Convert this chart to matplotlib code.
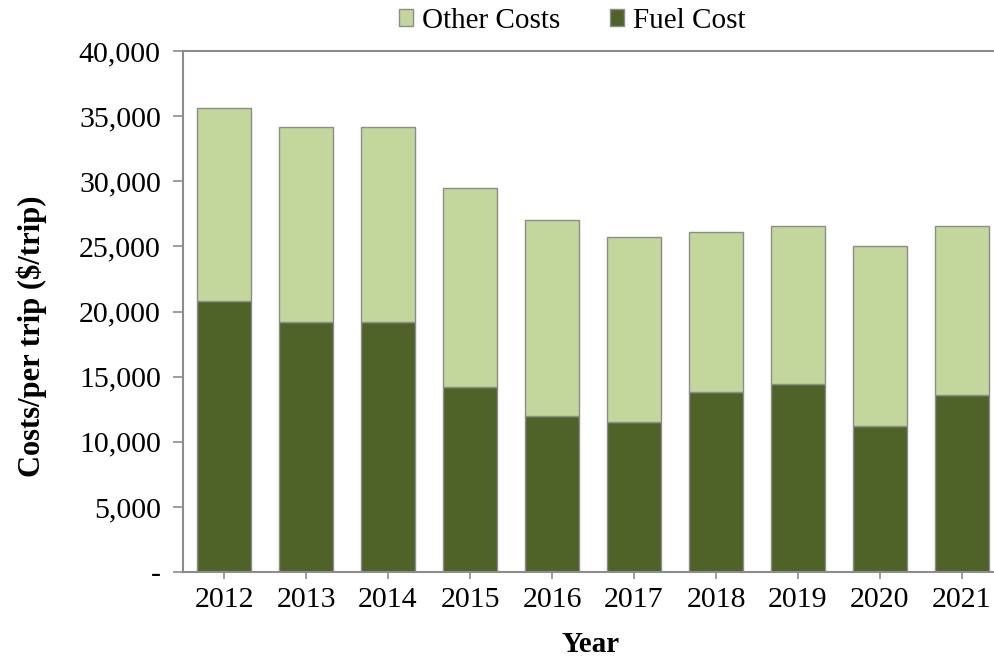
import numpy as np
import matplotlib.pyplot as plt
from matplotlib.ticker import FuncFormatter
from matplotlib.patches import Patch

plt.rcParams['font.family'] = ['Liberation Serif', 'DejaVu Serif']

years = ["2012", "2013", "2014", "2015", "2016", "2017", "2018", "2019", "2020", "2021"]
fuel_cost = [20800, 19200, 19200, 14200, 12000, 11500, 13800, 14400, 11200, 13600]
total_cost = [35600, 34200, 34200, 29500, 27050, 25700, 26100, 26600, 25000, 26600]
other_costs = [t - f for t, f in zip(total_cost, fuel_cost)]

fig = plt.figure(figsize=(9.95, 6.6), dpi=100)
ax = fig.add_axes([0.184, 0.1333, 0.824, 0.7894])

x = np.arange(len(years))
ax.bar(x, fuel_cost, width=0.66, color="#4f6228", edgecolor="#8c8c8c", linewidth=1)
ax.bar(x, other_costs, bottom=fuel_cost, width=0.66, color="#c3d69b", edgecolor="#8c8c8c", linewidth=1)

ax.set_xlim(-0.5, 9.5)
ax.set_ylim(0, 40000)
ax.set_yticks(np.arange(0, 40001, 5000))
ax.yaxis.set_major_formatter(FuncFormatter(lambda v, p: "-" if v == 0 else f"{int(v):,}"))
ax.set_xticks(x)
ax.set_xticklabels(years)

ax.spines["right"].set_visible(False)
for s in ["left", "bottom", "top"]:
    ax.spines[s].set_color("#8c8c8c")
    ax.spines[s].set_linewidth(1.5)

ax.tick_params(axis="y", length=7, width=1.2, color="#8c8c8c", labelsize=21.5, pad=9)
ax.tick_params(axis="x", length=5, width=1.2, color="#8c8c8c", labelsize=21.5, pad=6)

ax.set_ylabel("Costs/per trip ($/trip)", fontsize=22, fontweight="bold")
ax.yaxis.set_label_coords(-0.166, 0.452)
ax.set_xlabel("Year", fontsize=21, fontweight="bold")
ax.xaxis.set_label_coords(0.4976, -0.113)

handles = [Patch(facecolor="#c3d69b", edgecolor="#8c8c8c", label="Other Costs"),
           Patch(facecolor="#4f6228", edgecolor="#8c8c8c", label="Fuel Cost")]
fig.legend(handles=handles, loc="center", bbox_to_anchor=(0.575, 0.968), ncol=2,
           frameon=False, fontsize=21, handlelength=0.5, handleheight=0.5,
           handletextpad=0.3, columnspacing=1.7)

plt.savefig("out.png", dpi=100)
